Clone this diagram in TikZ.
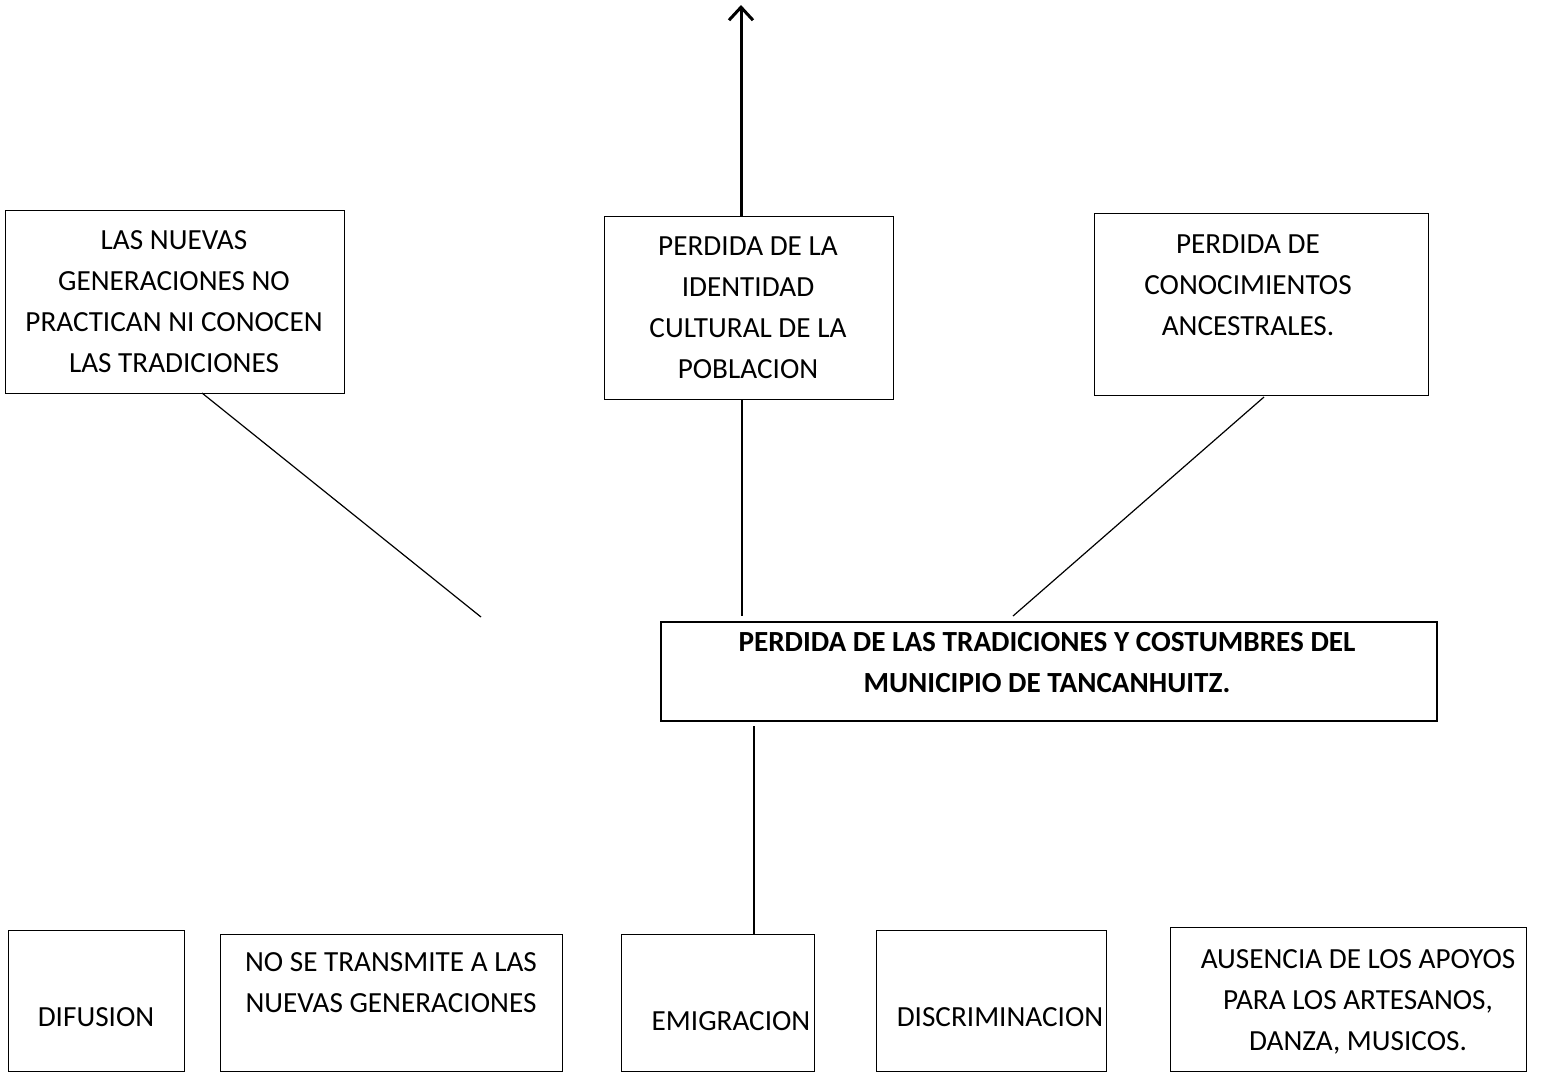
\documentclass[tikz,border=0pt]{standalone}
\usepackage{fontspec}
\setmainfont{Carlito}
\usetikzlibrary{arrows.meta}
\begin{document}
\begin{tikzpicture}[x=0.5pt,y=-0.5pt,
  box/.style={draw,line width=0.6pt,inner sep=0pt,anchor=north west},
  txt/.style={font=\fontsize{14.6}{20.5}\selectfont,align=center,inner sep=0pt},
  btxt/.style={font=\fontsize{14.6}{20.5}\selectfont\bfseries,align=center,inner sep=0pt},
  conn/.style={line width=0.6pt}]
\useasboundingbox (0,0) rectangle (1548,1073);
% top row boxes
\node[box,minimum width=169.5pt,minimum height=91.5pt] (a) at (5,210) {};
\node[txt,anchor=base] (ta) at (174,372) {LAS NUEVAS\\GENERACIONES NO\\PRACTICAN NI CONOCEN\\LAS TRADICIONES};
\node[box,minimum width=144.5pt,minimum height=91.5pt] (b) at (604,216) {};
\node[txt,anchor=base] (tb) at (748,378) {PERDIDA DE LA\\IDENTIDAD\\CULTURAL DE LA\\POBLACION};
\node[box,minimum width=167pt,minimum height=91pt] (c) at (1094,213) {};
\node[txt,anchor=base] (tc) at (1248,335) {PERDIDA DE\\CONOCIMIENTOS\\ANCESTRALES.};
% main box
\node[box,line width=1.1pt,minimum width=388pt,minimum height=49.5pt] (m) at (660,621) {};
\node[btxt,anchor=base] (tm) at (1047,692) {PERDIDA DE LAS TRADICIONES Y COSTUMBRES DEL\\MUNICIPIO DE TANCANHUITZ.};
% bottom boxes
\node[box,minimum width=88pt,minimum height=70.5pt] (d1) at (8,930) {};
\node[txt,anchor=base] (t1) at (96,1026) {DIFUSION};
\node[box,minimum width=171pt,minimum height=68.5pt] (d2) at (220,934) {};
\node[txt,anchor=base] (t2) at (391,1012) {NO SE TRANSMITE A LAS\\NUEVAS GENERACIONES};
\node[box,minimum width=96.5pt,minimum height=68.5pt] (d3) at (621,934) {};
\node[txt,anchor=base] (t3) at (731,1030) {EMIGRACION};
\node[box,minimum width=115pt,minimum height=70.5pt] (d4) at (876,930) {};
\node[txt,anchor=base] (t4) at (1000,1026) {DISCRIMINACION};
\node[box,minimum width=178pt,minimum height=72pt] (d5) at (1170,927) {};
\node[txt,anchor=base] (t5) at (1358,1050) {AUSENCIA DE LOS APOYOS\\PARA LOS ARTESANOS,\\DANZA, MUSICOS.};
% connectors
\coordinate (top) at (741,5);
\coordinate (ea) at (481,617);
\coordinate (eb) at (742,616);
\coordinate (ec) at (1013,616);
\coordinate (xe) at (754,0);
\draw[line width=1.5pt,-{Straight Barb[length=6.5pt,width=12pt,line width=1.5pt]}] (b.north -| top) -- (top);
\draw[conn] (202,393) -- (ea);
\draw[conn] (b.south -| eb) -- (eb);
\draw[conn] (1264,397) -- (ec);
\draw[conn] ([yshift=-2pt]m.south -| xe) -- (d3.north -| xe);
\end{tikzpicture}
\end{document}
